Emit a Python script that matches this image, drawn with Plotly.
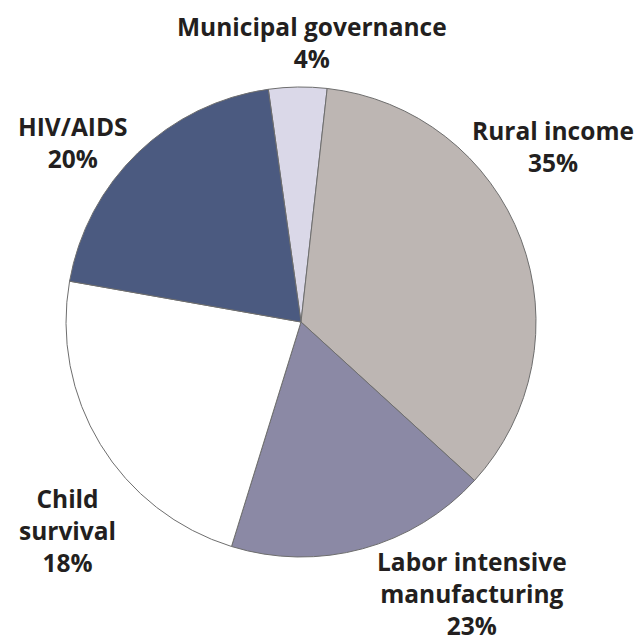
import plotly.graph_objects as go

W, H = 639, 640

# Data (slice sizes as drawn, and label text as printed)
categories = ["Municipal governance", "Rural income", "Labor intensive manufacturing",
              "Child survival", "HIV/AIDS"]
slice_values = [4, 35, 18, 23, 20]
label_lines = ["Municipal governance", "Rural income", "Labor intensive<br>manufacturing",
               "Child<br>survival", "HIV/AIDS"]
label_pct = ["4%", "35%", "23%", "18%", "20%"]

colors = ["#dad8e8", "#bdb6b3", "#8b89a5", "#ffffff", "#4b5a80"]

# label block centers in pixels (layout only)
label_pos = [(312, 42), (553, 146), (472, 593), (67, 530), (73, 143)]

cx, cy, r = 301, 322, 235

fig = go.Figure(go.Pie(
    labels=categories,
    values=slice_values,
    sort=False,
    direction="clockwise",
    rotation=-8,
    marker=dict(colors=colors, line=dict(color="#6e6e6e", width=1)),
    textinfo="none",
    hoverinfo="label+percent",
    showlegend=False,
    domain=dict(x=[(cx - r) / W, (cx + r) / W], y=[1 - (cy + r) / H, 1 - (cy - r) / H]),
))

for lines, pct, (px, py) in zip(label_lines, label_pct, label_pos):
    fig.add_annotation(
        x=px / W, y=1 - py / H, xref="paper", yref="paper",
        text=f"<b>{lines}<br>{pct}</b>", showarrow=False,
        xanchor="center", yanchor="middle", align="center",
        font=dict(family="Open Sans", size=24.5, color="#231f20"),
    )

fig.update_layout(
    width=W, height=H,
    margin=dict(l=0, r=0, t=0, b=0),
    paper_bgcolor="white", plot_bgcolor="white",
)

fig.write_html("out.html", config={"displayModeBar": False},
               post_script="document.body.style.margin='0';document.body.style.padding='0';")
